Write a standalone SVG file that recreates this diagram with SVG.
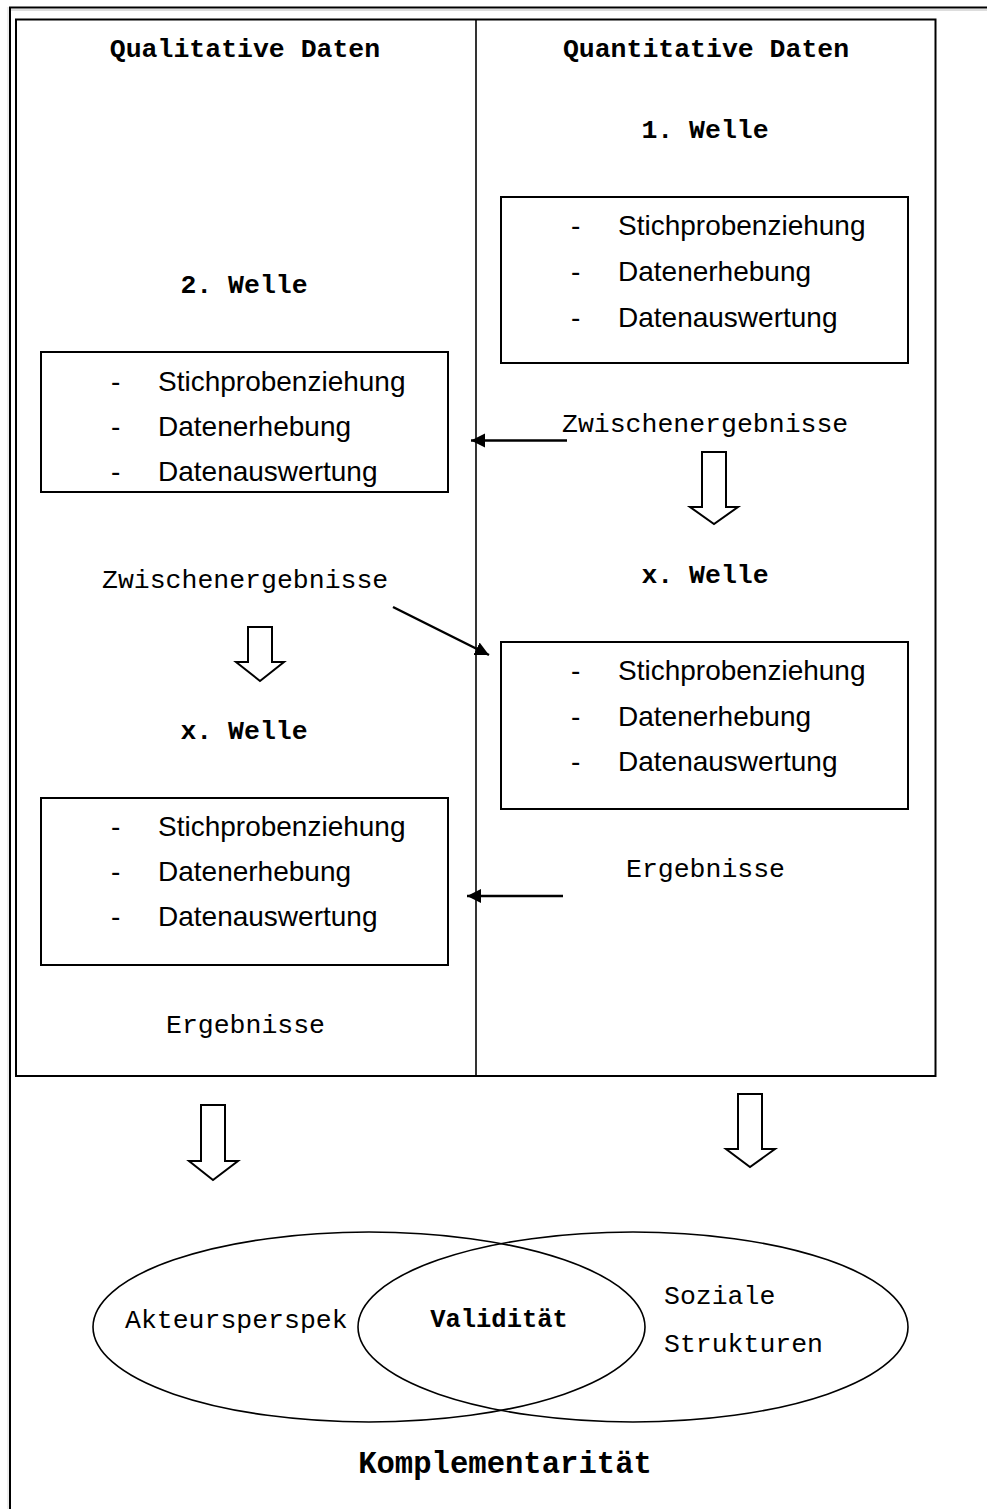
<svg xmlns="http://www.w3.org/2000/svg" width="987" height="1509" viewBox="0 0 987 1509">
<defs>
<style>
.mono{font-family:"Liberation Mono","Courier New",monospace;font-size:26.5px;fill:#000}
.b{font-weight:bold}
.sans{font-family:"Liberation Sans",Arial,sans-serif;font-size:28px;fill:#000}
.box{fill:none;stroke:#000;stroke-width:2}
.hollow{fill:#fff;stroke:#000;stroke-width:2;stroke-linejoin:miter}
.conn{stroke:#000;stroke-width:2.5;fill:none}
.ell{fill:none;stroke:#000;stroke-width:1.6}
</style>
<marker id="ah" markerUnits="userSpaceOnUse" markerWidth="16" markerHeight="16" viewBox="0 0 16 16" refX="14" refY="8" orient="auto">
<path d="M0,1 L14,8 L0,15 Z" fill="#000"/>
</marker>
</defs>
<rect width="987" height="1509" fill="#fff"/>
<g id="frame">
<line x1="9" y1="10" x2="987" y2="10" stroke="#bbb" stroke-width="1"/>
<line x1="9" y1="7.5" x2="987" y2="7.5" stroke="#000" stroke-width="2"/>
<line x1="8" y1="7" x2="8" y2="1509" stroke="#ddd" stroke-width="1"/>
<line x1="10" y1="7" x2="10" y2="1509" stroke="#000" stroke-width="2"/>
<rect x="16" y="19.5" width="919.5" height="1056.5" class="box" stroke-width="2.2"/>
<line x1="476" y1="19" x2="476" y2="1076" stroke="#000" stroke-width="1.6"/>
</g>
<g id="headers">
<text class="mono b" x="245" y="57" text-anchor="middle">Qualitative Daten</text>
<text class="mono b" x="706" y="57" text-anchor="middle">Quantitative Daten</text>
</g>
<g id="quant-w1">
<text class="mono b" x="705" y="138" text-anchor="middle">1. Welle</text>
<rect x="501" y="197" width="407" height="166" class="box"/>
<text class="sans" x="571" y="235">-</text><text class="sans" x="618" y="235">Stichprobenziehung</text>
<text class="sans" x="571" y="281">-</text><text class="sans" x="618" y="281">Datenerhebung</text>
<text class="sans" x="571" y="327">-</text><text class="sans" x="618" y="327">Datenauswertung</text>
</g>
<g id="qual-w2">
<text class="mono b" x="244" y="293" text-anchor="middle">2. Welle</text>
<rect x="41" y="352" width="407" height="140" class="box"/>
<text class="sans" x="111" y="391">-</text><text class="sans" x="158" y="391">Stichprobenziehung</text>
<text class="sans" x="111" y="436">-</text><text class="sans" x="158" y="436">Datenerhebung</text>
<text class="sans" x="111" y="481">-</text><text class="sans" x="158" y="481">Datenauswertung</text>
</g>
<g id="quant-zwischen"><text class="mono" x="562" y="432">Zwischenergebnisse</text></g>
<g id="qual-zwischen"><text class="mono" x="102" y="588">Zwischenergebnisse</text></g>
<g id="quant-wx">
<text class="mono b" x="705" y="583" text-anchor="middle">x. Welle</text>
<rect x="501" y="642" width="407" height="167" class="box"/>
<text class="sans" x="571" y="680">-</text><text class="sans" x="618" y="680">Stichprobenziehung</text>
<text class="sans" x="571" y="726">-</text><text class="sans" x="618" y="726">Datenerhebung</text>
<text class="sans" x="571" y="771">-</text><text class="sans" x="618" y="771">Datenauswertung</text>
</g>
<g id="qual-wx">
<text class="mono b" x="244" y="739" text-anchor="middle">x. Welle</text>
<rect x="41" y="798" width="407" height="167" class="box"/>
<text class="sans" x="111" y="836">-</text><text class="sans" x="158" y="836">Stichprobenziehung</text>
<text class="sans" x="111" y="881">-</text><text class="sans" x="158" y="881">Datenerhebung</text>
<text class="sans" x="111" y="926">-</text><text class="sans" x="158" y="926">Datenauswertung</text>
</g>
<g id="quant-erg"><text class="mono" x="626" y="877">Ergebnisse</text></g>
<g id="qual-erg"><text class="mono" x="166" y="1033">Ergebnisse</text></g>
<g id="venn">
<ellipse cx="369" cy="1327" rx="276" ry="95" class="ell"/>
<ellipse cx="633" cy="1327" rx="275" ry="95" class="ell"/>
<text class="mono" x="125" y="1328">Akteursperspek</text>
<text class="mono b" x="499" y="1327" text-anchor="middle" style="font-size:25.5px">Validität</text>
<text class="mono" x="664" y="1304">Soziale</text>
<text class="mono" x="664" y="1352">Strukturen</text>
</g>
<g id="komplementaritaet"><text class="mono b" x="505" y="1473" text-anchor="middle" style="font-size:30.6px">Komplementarität</text></g>
<g id="connectors">
<line x1="567" y1="440.5" x2="471" y2="440.5" class="conn" marker-end="url(#ah)"/>
<line x1="563" y1="896" x2="467" y2="896" class="conn" marker-end="url(#ah)"/>
<line x1="393" y1="607" x2="489" y2="655" class="conn" marker-end="url(#ah)"/>
<path class="hollow" d="M702,452 H726 V507 H738 L714,524 L690,507 H702 Z"/>
<path class="hollow" d="M248,627 H272 V662 H284 L260,681 L236,662 H248 Z"/>
<path class="hollow" d="M201,1105 H225 V1161 H238 L213,1180 L189,1161 H201 Z"/>
<path class="hollow" d="M738,1094 H762 V1149 H775 L750,1167 L726,1149 H738 Z"/>
</g>
</svg>
